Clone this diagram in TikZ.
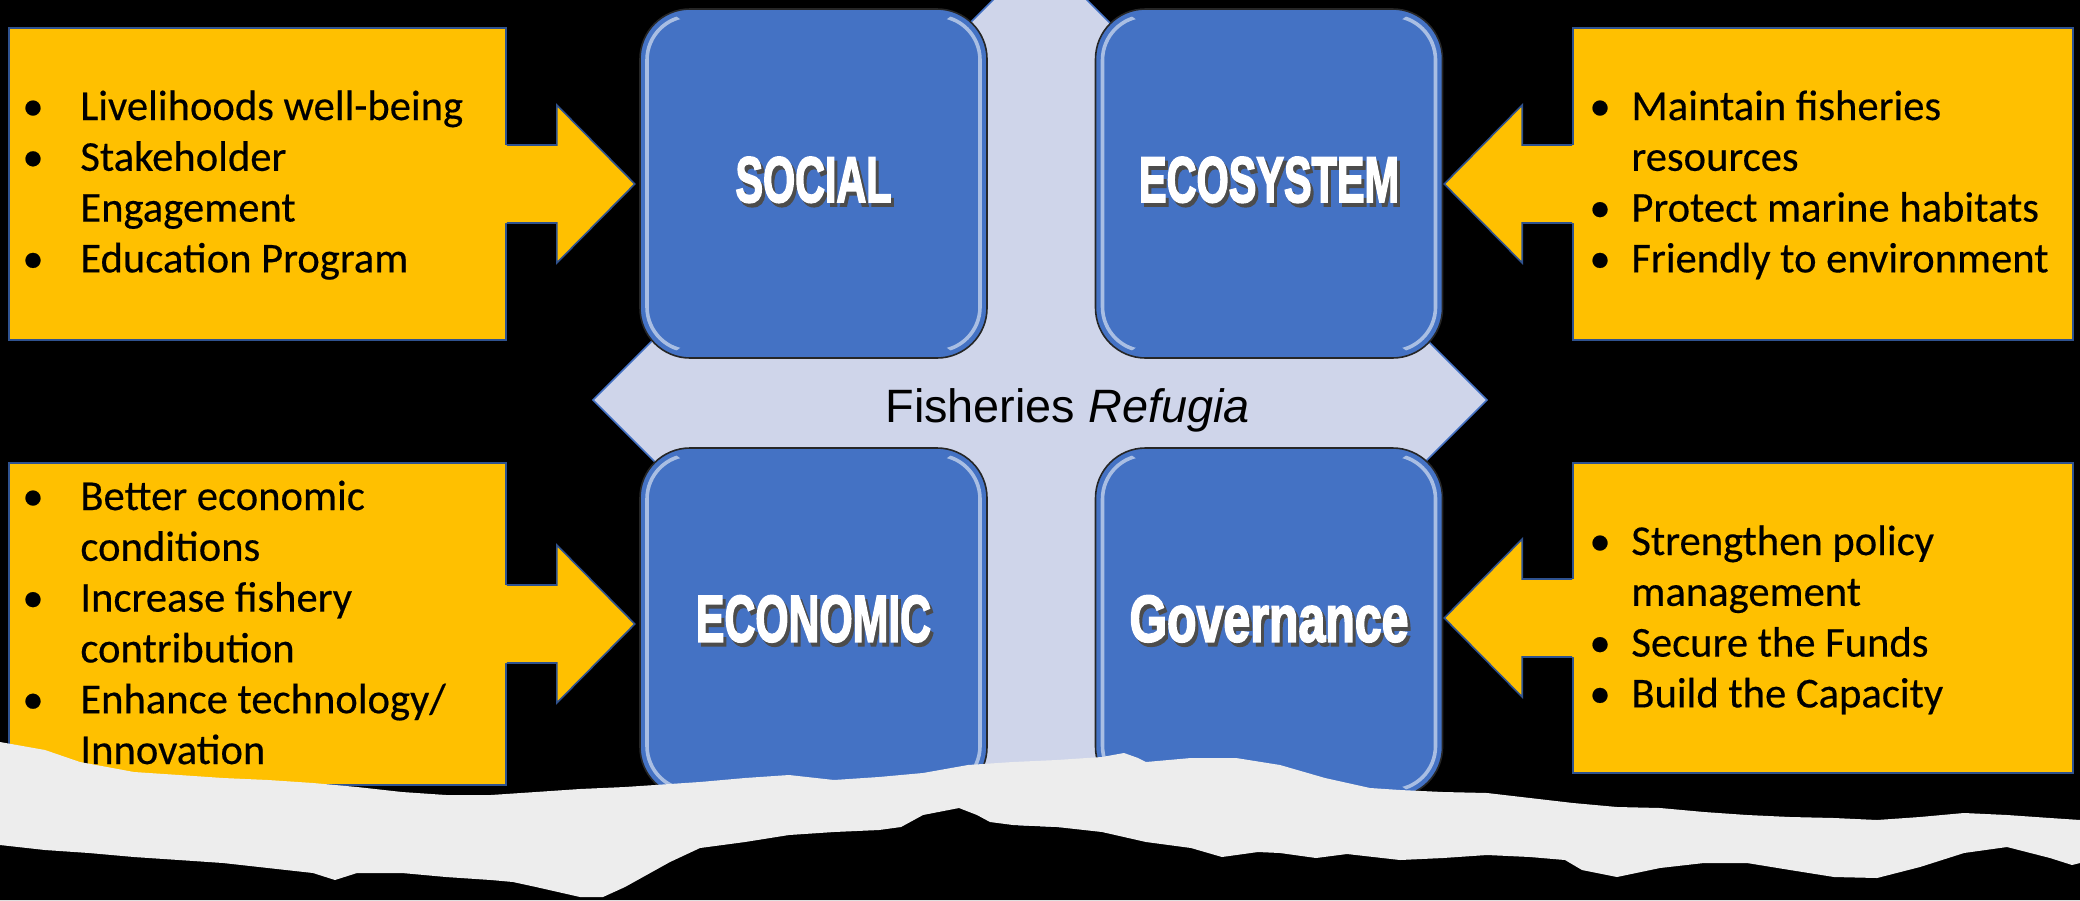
\documentclass[tikz,border=0pt]{standalone}
\usepackage{fontspec}
\setmainfont{Carlito}[FakeBold=0.4]
\newfontfamily\arialf{Liberation Sans}
\newfontfamily\heavyf{Liberation Sans}[BoldFeatures={FakeBold=3}]
\usepackage{graphicx}
\usetikzlibrary{calc}
\definecolor{yel}{HTML}{FFC000}
\definecolor{ybord}{HTML}{2F528F}
\definecolor{boxblue}{HTML}{4472C4}
\definecolor{crossfill}{HTML}{CFD5EA}
\definecolor{paperc}{HTML}{EDEDED}
\newlength\bw
\newcommand\bl{\makebox[\bw][l]{\textbullet}}
\newcommand\cl{\hspace*{\bw}}
\newcommand\boxlabel[3]{\raisebox{4pt}{\rlap{\smash{\raisebox{-2pt}{\hspace*{1.5pt}\color{black!70}\resizebox{#1}{#2}{\heavyf\bfseries #3}}}}\resizebox{#1}{#2}{\heavyf\bfseries #3}}}
% block arrow from a callout box: #1 anchor, #2 direction (1 right, -1 left)
\newcommand\yarrow[2]{%
  \fill[yel] (#1) ++(-3*#2,-39) -- ++(53*#2,0) -- ++(0,-40) -- ++(78*#2,79) -- ++(-78*#2,79) -- ++(0,-40) -- ++(-53*#2,0) -- cycle;
  \draw[ybord,line width=0.8pt,line join=miter] (#1) ++(0,-39) -- ++(50*#2,0) -- ++(0,-40) -- ++(78*#2,79) -- ++(-78*#2,79) -- ++(0,-40) -- ++(-50*#2,0);
}
\begin{document}
\begin{tikzpicture}[x=0.5pt,y=-0.5pt,
  bluebox/.style={draw=black!85, line width=0.8pt, fill=boxblue, rounded corners=25pt,
    minimum width=173.5pt, minimum height=174.5pt, inner sep=0pt, text=white,
    path picture={
      \begin{scope}
      \clip ([shift={(0pt,0pt)}]path picture bounding box.north west) rectangle ([shift={(30pt,0pt)}]path picture bounding box.south west)
            ([shift={(-30pt,0pt)}]path picture bounding box.north east) rectangle (path picture bounding box.south east);
      \draw[white!60!boxblue, line width=1.8pt, rounded corners=22pt, opacity=0.9]
        ([shift={(3.5pt,-3.5pt)}]path picture bounding box.north west) rectangle ([shift={(-3.5pt,3.5pt)}]path picture bounding box.south east);
      \end{scope}
    }},
  ybox/.style={draw=ybord, line width=0.8pt, fill=yel, inner sep=0pt},
  btext/.style={inner sep=0pt, anchor=base west, text=black,
    font=\fontsize{21.3pt}{25.4pt}\selectfont},
]
\fill[black] (0,0) rectangle (2080,900);
\useasboundingbox (0,0) rectangle (2080,900);

% quad arrow (background)
\begin{scope}[shift={(1040,400)}]
\draw[fill=crossfill, draw=boxblue, line width=0.8pt, line join=miter]
  (0,-447) -- (201,-246) -- (100,-246) -- (100,-100) -- (246,-100) -- (246,-201)
  -- (447,0) -- (246,201) -- (246,100) -- (100,100) -- (100,246) -- (201,246)
  -- (0,447) -- (-201,246) -- (-100,246) -- (-100,100) -- (-246,100) -- (-246,201)
  -- (-447,0) -- (-246,-201) -- (-246,-100) -- (-100,-100) -- (-100,-246) -- (-201,-246) -- cycle;
\end{scope}

% blue boxes
\node[bluebox] (social) at (813.5,183.5) {\boxlabel{78pt}{22.5pt}{SOCIAL}};
\node[bluebox] (ecosys) at (1269,183.5) {\boxlabel{130pt}{22.5pt}{ECOSYSTEM}};
\node[bluebox] (econ) at (813.5,622.5) {\boxlabel{117.5pt}{23pt}{ECONOMIC}};
\node[bluebox] (gov) at (1269,622.5) {\boxlabel{139.5pt}{23pt}{Governance}};

\node[anchor=base west, inner sep=0pt, text=black, font=\arialf\fontsize{23.4pt}{28pt}\selectfont] (fr) at (885,422) {Fisheries \textit{Refugia}};

% yellow callouts
\node[ybox, minimum width=248.5pt, minimum height=156pt] (tl) at (257.5,184) {};
\node[ybox, minimum width=250pt, minimum height=156pt] (tr) at (1823,184) {};
\node[ybox, minimum width=248.5pt, minimum height=161pt] (bll) at (257.5,624) {};
\node[ybox, minimum width=250pt, minimum height=155pt] (br) at (1823,618) {};
\yarrow{tl.east}{1}
\yarrow{tr.west}{-1}
\yarrow{bll.east}{1}
\yarrow{br.west}{-1}

\node[btext] (tlt) at (22,120) {\setlength\bw{29pt}\begin{tabular}[t]{@{}l@{}}
\bl Livelihoods well-being\\ \bl Stakeholder\\ \cl Engagement\\ \bl Education Program\end{tabular}};
\node[btext] (trt) at (1589,120) {\setlength\bw{21pt}\begin{tabular}[t]{@{}l@{}}
\bl Maintain fisheries\\ \cl resources\\ \bl Protect marine habitats\\ \bl Friendly to environment\end{tabular}};
\node[btext] (blt) at (22,510) {\setlength\bw{29pt}\begin{tabular}[t]{@{}l@{}}
\bl Better economic\\ \cl conditions\\ \bl Increase fishery\\ \cl contribution\\ \bl Enhance technology/\\ \cl Innovation\end{tabular}};
\node[btext] (brt) at (1589,555) {\setlength\bw{21pt}\begin{tabular}[t]{@{}l@{}}
\bl Strengthen policy\\ \cl management\\ \bl Secure the Funds\\ \bl Build the Capacity\end{tabular}};

% torn paper overlay
\fill[black] (0,845) -- (45,850) -- (89,853) -- (134,857) -- (179,860) -- (223,863) -- (268,868) -- (313,873) -- (335,880) -- (357,873) -- (402,873) -- (446,877) -- (491,880) -- (513,882) -- (536,887) -- (580,897) -- (603,897) -- (625,887) -- (670,862) -- (700,848) -- (745,842) -- (789,835) -- (834,832) -- (879,830) -- (901,827) -- (923,815) -- (959,808) -- (977,815) -- (990,822) -- (1013,825) -- (1057,827) -- (1102,832) -- (1146,842) -- (1191,848) -- (1222,857) -- (1258,852) -- (1280,853) -- (1316,858) -- (1347,854) -- (1400,860) -- (1443,858) -- (1487,855) -- (1530,857) -- (1565,860) -- (1582,870) -- (1617,877) -- (1660,868) -- (1704,863) -- (1747,863) -- (1790,870) -- (1834,877) -- (1877,878) -- (1920,867) -- (1964,853) -- (2007,847) -- (2050,858) -- (2072,865) -- (2080,863) -- (2080,900) -- (0,900) -- cycle;
\fill[paperc] (0,742) -- (45,750) -- (80,762) -- (134,772) -- (179,775) -- (223,778) -- (268,780) -- (313,783) -- (357,787) -- (402,792) -- (446,795) -- (491,795) -- (536,792) -- (580,789) -- (625,787) -- (670,784) -- (700,782) -- (745,778) -- (789,775) -- (834,780) -- (879,777) -- (923,773) -- (968,765) -- (1013,762) -- (1057,760) -- (1102,757) -- (1124,753) -- (1138,758) -- (1146,762) -- (1191,758) -- (1236,758) -- (1280,765) -- (1325,778) -- (1370,788) -- (1400,790) -- (1443,792) -- (1487,793) -- (1530,798) -- (1573,803) -- (1617,807) -- (1660,808) -- (1704,812) -- (1747,815) -- (1790,817) -- (1834,818) -- (1877,820) -- (1920,817) -- (1964,813) -- (2007,815) -- (2050,818) -- (2080,820)
  -- (2080,863) -- (2072,865) -- (2050,858) -- (2007,847) -- (1964,853) -- (1920,867) -- (1877,878) -- (1834,877) -- (1790,870) -- (1747,863) -- (1704,863) -- (1660,868) -- (1617,877) -- (1582,870) -- (1565,860) -- (1530,857) -- (1487,855) -- (1443,858) -- (1400,860) -- (1347,854) -- (1316,858) -- (1280,853) -- (1258,852) -- (1222,857) -- (1191,848) -- (1146,842) -- (1102,832) -- (1057,827) -- (1013,825) -- (990,822) -- (977,815) -- (959,808) -- (923,815) -- (901,827) -- (879,830) -- (834,832) -- (789,835) -- (745,842) -- (700,848) -- (670,862) -- (625,887) -- (603,897) -- (580,897) -- (536,887) -- (513,882) -- (491,880) -- (446,877) -- (402,873) -- (357,873) -- (335,880) -- (313,873) -- (268,868) -- (223,863) -- (179,860) -- (134,857) -- (89,853) -- (45,850) -- (0,845) -- cycle;
\end{tikzpicture}
\end{document}
